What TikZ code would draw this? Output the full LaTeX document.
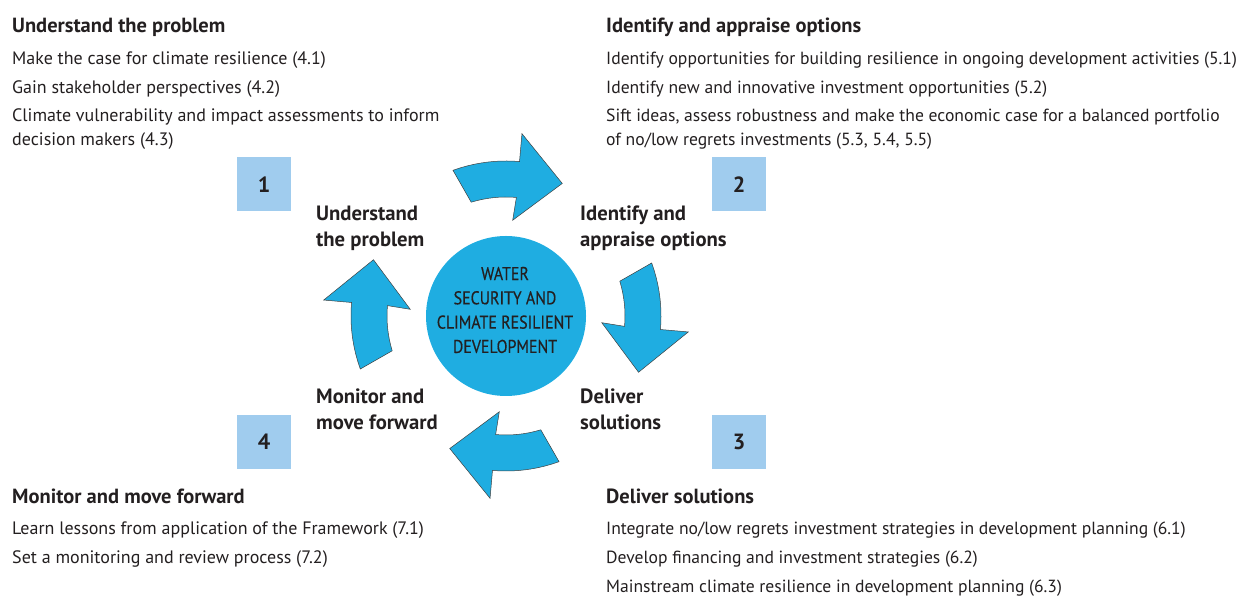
\documentclass[tikz,border=0pt]{standalone}
\usepackage{fontspec}
\setmainfont{PT Sans}
\newfontfamily\narrowfont{PT Sans}[FakeStretch=0.86, FakeBold=0.4]
\usetikzlibrary{positioning}
\definecolor{cycleblue}{RGB}{31,173,225}
\definecolor{stepblue}{RGB}{160,204,238}
\definecolor{inkgray}{RGB}{35,31,32}
\tikzset{
  heading/.style={anchor=base west, inner sep=0pt, text=inkgray, font=\fontsize{20.5}{24}\selectfont\bfseries},
  item/.style={anchor=base west, inner sep=0pt, align=left, text=inkgray, font=\fontsize{18}{24.5}\selectfont},
  rightitem/.style={item, font=\fontsize{17.6}{24.5}\selectfont},
  stage/.style={anchor=base west, inner sep=0pt, align=left, text=inkgray, font=\fontsize{20.7}{26.5}\selectfont\bfseries},
  numbox/.style={fill=stepblue, minimum size=54pt, inner sep=0pt, text=inkgray, font=\fontsize{22}{24}\selectfont\bfseries},
  hubcircle/.style={circle, fill=cycleblue, minimum size=160pt, inner sep=0pt, align=center, text=inkgray,
                    font=\narrowfont\fontsize{18.5}{24.3}\selectfont},
  cyclearrow/.style={fill=cycleblue, draw=black!75, line width=0.5pt, line join=miter},
}

\begin{document}
\begin{tikzpicture}[x=1pt, y=1pt]
  \useasboundingbox (0,0) rectangle (1242,599);

  % centre and the four arrows round it
  \node[hubcircle] (hub) at (506,283) {};
  \node[hubcircle, fill=none, minimum size=0pt] (hubtext) at (505,289) {WATER\\SECURITY AND\\CLIMATE RESILIENT\\DEVELOPMENT};
  \foreach \r in {0,90,180,270}
    \draw[cyclearrow, shift={(hub.center)}, rotate=-\r]
      (110:155pt) -- (107:119pt) arc[start angle=107, end angle=85, radius=119pt]
      -- (86:96pt) -- (67:144pt) -- (85:183pt) -- (85:155pt)
      arc[start angle=85, end angle=110, radius=155pt] -- cycle;

  % stage labels (base = last line)
  \node[stage] (stage1) at (316,352) {Understand\\the problem};
  \node[stage] (stage2) at (580,352) {Identify and\\appraise options};
  \node[stage] (stage3) at (580,169) {Deliver\\solutions};
  \node[stage] (stage4) at (316,169) {Monitor and\\move forward};

  % number boxes
  \node[numbox] (num1) at (264,414.5) {1};
  \node[numbox] (num2) at (739,414.5) {2};
  \node[numbox] (num3) at (739,157) {3};
  \node[numbox] (num4) at (264,157) {4};

  % step 1
  \node[heading] (head1) at (12,566) {Understand the problem};
  \node[item, below=32pt of head1.base west, anchor=base west] (item11) {Make the case for climate resilience (4.1)};
  \node[item, below=29pt of item11.base west, anchor=base west] (item12) {Gain stakeholder perspectives (4.2)};
  \node[item, below=52pt of item12.base west, anchor=base west] (item13) {Climate vulnerability and impact assessments to inform\\decision makers (4.3)};

  % step 2
  \node[heading] (head2) at (606,566) {Identify and appraise options};
  \node[rightitem, below=32pt of head2.base west, anchor=base west] (item21) {Identify opportunities for building resilience in ongoing development activities (5.1)};
  \node[rightitem, below=29pt of item21.base west, anchor=base west] (item22) {Identify new and innovative investment opportunities (5.2)};
  \node[rightitem, below=52pt of item22.base west, anchor=base west] (item23) {Sift ideas, assess robustness and make the economic case for a balanced portfolio\\of no/low regrets investments (5.3, 5.4, 5.5)};

  % step 3
  \node[heading] (head3) at (606,95) {Deliver solutions};
  \node[rightitem, below=31pt of head3.base west, anchor=base west] (item31) {Integrate no/low regrets investment strategies in development planning (6.1)};
  \node[rightitem, below=29pt of item31.base west, anchor=base west] (item32) {Develop financing and investment strategies (6.2)};
  \node[rightitem, below=29pt of item32.base west, anchor=base west] (item33) {Mainstream climate resilience in development planning (6.3)};

  % step 4
  \node[heading] (head4) at (12,95) {Monitor and move forward};
  \node[item, below=31pt of head4.base west, anchor=base west] (item41) {Learn lessons from application of the Framework (7.1)};
  \node[item, below=29pt of item41.base west, anchor=base west] (item42) {Set a monitoring and review process (7.2)};
\end{tikzpicture}
\end{document}
